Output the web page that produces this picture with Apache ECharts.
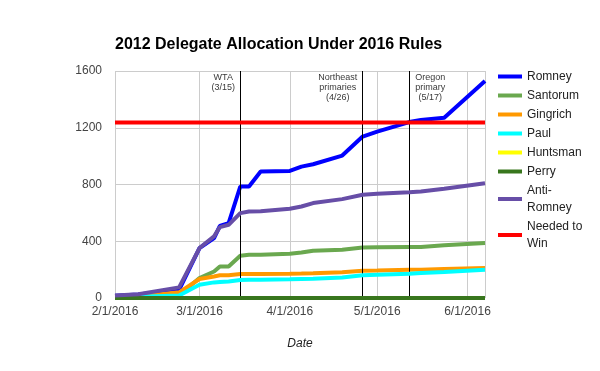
<!DOCTYPE html>
<html>
<head>
<meta charset="utf-8">
<script src="https://cdn.jsdelivr.net/npm/echarts@6/dist/echarts.min.js"></script>
<style>
html,body{margin:0;padding:0;background:#fff;}
#chart{width:600px;height:371px;}
</style>
</head>
<body>
<div id="chart"></div>
<script>
// ---- data ----
const dates = ['2016-02-01','2016-02-09','2016-02-23','2016-03-01','2016-03-06','2016-03-08','2016-03-11','2016-03-15','2016-03-18','2016-03-22','2016-04-01','2016-04-05','2016-04-09','2016-04-19','2016-04-26','2016-05-01','2016-05-12','2016-05-16','2016-05-24','2016-06-07'];
const romney     = [15, 24, 58, 352, 422, 508, 528, 786, 786, 891, 896, 926, 943, 1004, 1138, 1173, 1240, 1254, 1271, 1530];
const santorum   = [6, 8, 20, 141, 187, 222, 222, 298, 305, 305, 312, 320, 333, 340, 356, 357, 359, 359, 372, 387];
const gingrich   = [6, 10, 40, 134, 152, 160, 160, 169, 170, 170, 171, 172, 174, 182, 192, 194, 199, 200, 204, 211];
const paul       = [5, 8, 18, 94, 110, 113, 117, 127, 128, 129, 132, 134, 136, 145, 160, 164, 171, 176, 184, 199];
const huntsman   = [0, 0, 0, 0, 0, 0, 0, 0, 0, 0, 0, 0, 0, 0, 0, 0, 0, 0, 0, 0];
const perry      = [0, 0, 0, 0, 0, 0, 0, 0, 0, 0, 0, 0, 0, 0, 0, 0, 0, 0, 0, 0];
const antiRomney = [18, 26, 75, 352, 434, 500, 516, 598, 610, 612, 629, 645, 669, 697, 728, 734, 745, 750, 770, 809];
const neededToWin = [1237, 1237, 1237, 1237, 1237, 1237, 1237, 1237, 1237, 1237, 1237, 1237, 1237, 1237, 1237, 1237, 1237, 1237, 1237, 1237];
const seriesNames = ['Romney','Santorum','Gingrich','Paul','Huntsman','Perry','Anti-Romney','Needed to Win'];
const legendLabels = ['Romney','Santorum','Gingrich','Paul','Huntsman','Perry','Anti-\nRomney','Needed to\nWin'];
const eventDates = ['2016-03-15','2016-04-26','2016-05-12'];
const eventLabels = ['WTA\n(3/15)','Northeast\nprimaries\n(4/26)','Oregon\nprimary\n(5/17)'];
const yTicks = [0, 400, 800, 1200, 1600];
const xMax = '2016-06-07';
const titleText = '2012 Delegate Allocation Under 2016 Rules';
const xAxisTitle = 'Date';

// ---- styling ----
const colors = ['#0000ff','#6aa84f','#ff9900','#00ffff','#ffff00','#38761d','#674ea7','#ff0000'];
const values = [romney, santorum, gingrich, paul, huntsman, perry, antiRomney, neededToWin];
const FONT = '"Liberation Sans", Arial, sans-serif';
const labelOffsets = [[-17, 0], [-25, 0], [21, 0]];

const series = values.map((vals, i) => ({
  name: seriesNames[i],
  type: 'line',
  data: dates.map((d, k) => [d, vals[k]]),
  showSymbol: false,
  symbol: 'none',
  lineStyle: { color: colors[i], width: 4 },
  itemStyle: { color: colors[i] },
  z: 2 + i,
  silent: true
}));

series.push({
  name: 'events',
  type: 'scatter',
  symbolSize: 0,
  z: 20,
  silent: true,
  data: eventDates.map((d, i) => ({
    value: [d, yTicks[yTicks.length - 1]],
    label: {
      show: true,
      position: 'bottom',
      distance: 2,
      offset: labelOffsets[i],
      formatter: eventLabels[i],
      fontSize: 9,
      lineHeight: 10,
      color: '#000',
      fontFamily: FONT,
      align: 'center'
    }
  })),
  markLine: {
    silent: true,
    symbol: ['none', 'none'],
    label: { show: false },
    lineStyle: { color: '#000', width: 1, type: 'solid' },
    data: eventDates.map(d => ({ xAxis: d }))
  }
});

const chart = echarts.init(document.getElementById('chart'), null, { renderer: 'canvas' });
chart.setOption({
  animation: false,
  backgroundColor: '#fff',
  textStyle: { fontFamily: FONT },
  title: {
    text: titleText,
    left: 115,
    top: 37,
    padding: 0,
    textStyle: { fontSize: 16, fontWeight: 'bold', color: '#000', fontFamily: FONT }
  },
  legend: {
    orient: 'vertical',
    left: 498,
    top: 68,
    padding: 0,
    itemGap: 2,
    itemWidth: 24,
    itemHeight: 4,
    icon: 'rect',
    data: seriesNames,
    formatter: name => legendLabels[seriesNames.indexOf(name)],
    textStyle: { fontSize: 12, lineHeight: 17, color: '#222', fontFamily: FONT },
    selectedMode: false
  },
  grid: { left: 115, top: 71, width: 370, height: 227, containLabel: false },
  xAxis: {
    type: 'time',
    min: dates[0],
    max: xMax,
    splitNumber: 4,
    name: xAxisTitle,
    nameLocation: 'middle',
    nameGap: 40,
    nameTextStyle: { fontStyle: 'italic', fontSize: 12, color: '#222', fontFamily: FONT },
    axisLine: { show: false },
    axisTick: { show: false },
    axisLabel: {
      margin: 8,
      fontSize: 12,
      color: '#444',
      fontFamily: FONT,
      showMaxLabel: false,
      formatter: v => { const d = new Date(v); return (d.getMonth() + 1) + '/' + d.getDate() + '/' + d.getFullYear(); }
    },
    splitLine: { show: true, lineStyle: { color: '#cccccc', width: 1 } }
  },
  yAxis: {
    type: 'value',
    min: yTicks[0],
    max: yTicks[yTicks.length - 1],
    interval: yTicks[1] - yTicks[0],
    axisLine: { show: false },
    axisTick: { show: false },
    axisLabel: { margin: 13, fontSize: 12, color: '#444', fontFamily: FONT, formatter: v => String(v) },
    splitLine: { lineStyle: { color: '#cccccc', width: 1 } }
  },
  series: series
});
</script>
</body>
</html>
